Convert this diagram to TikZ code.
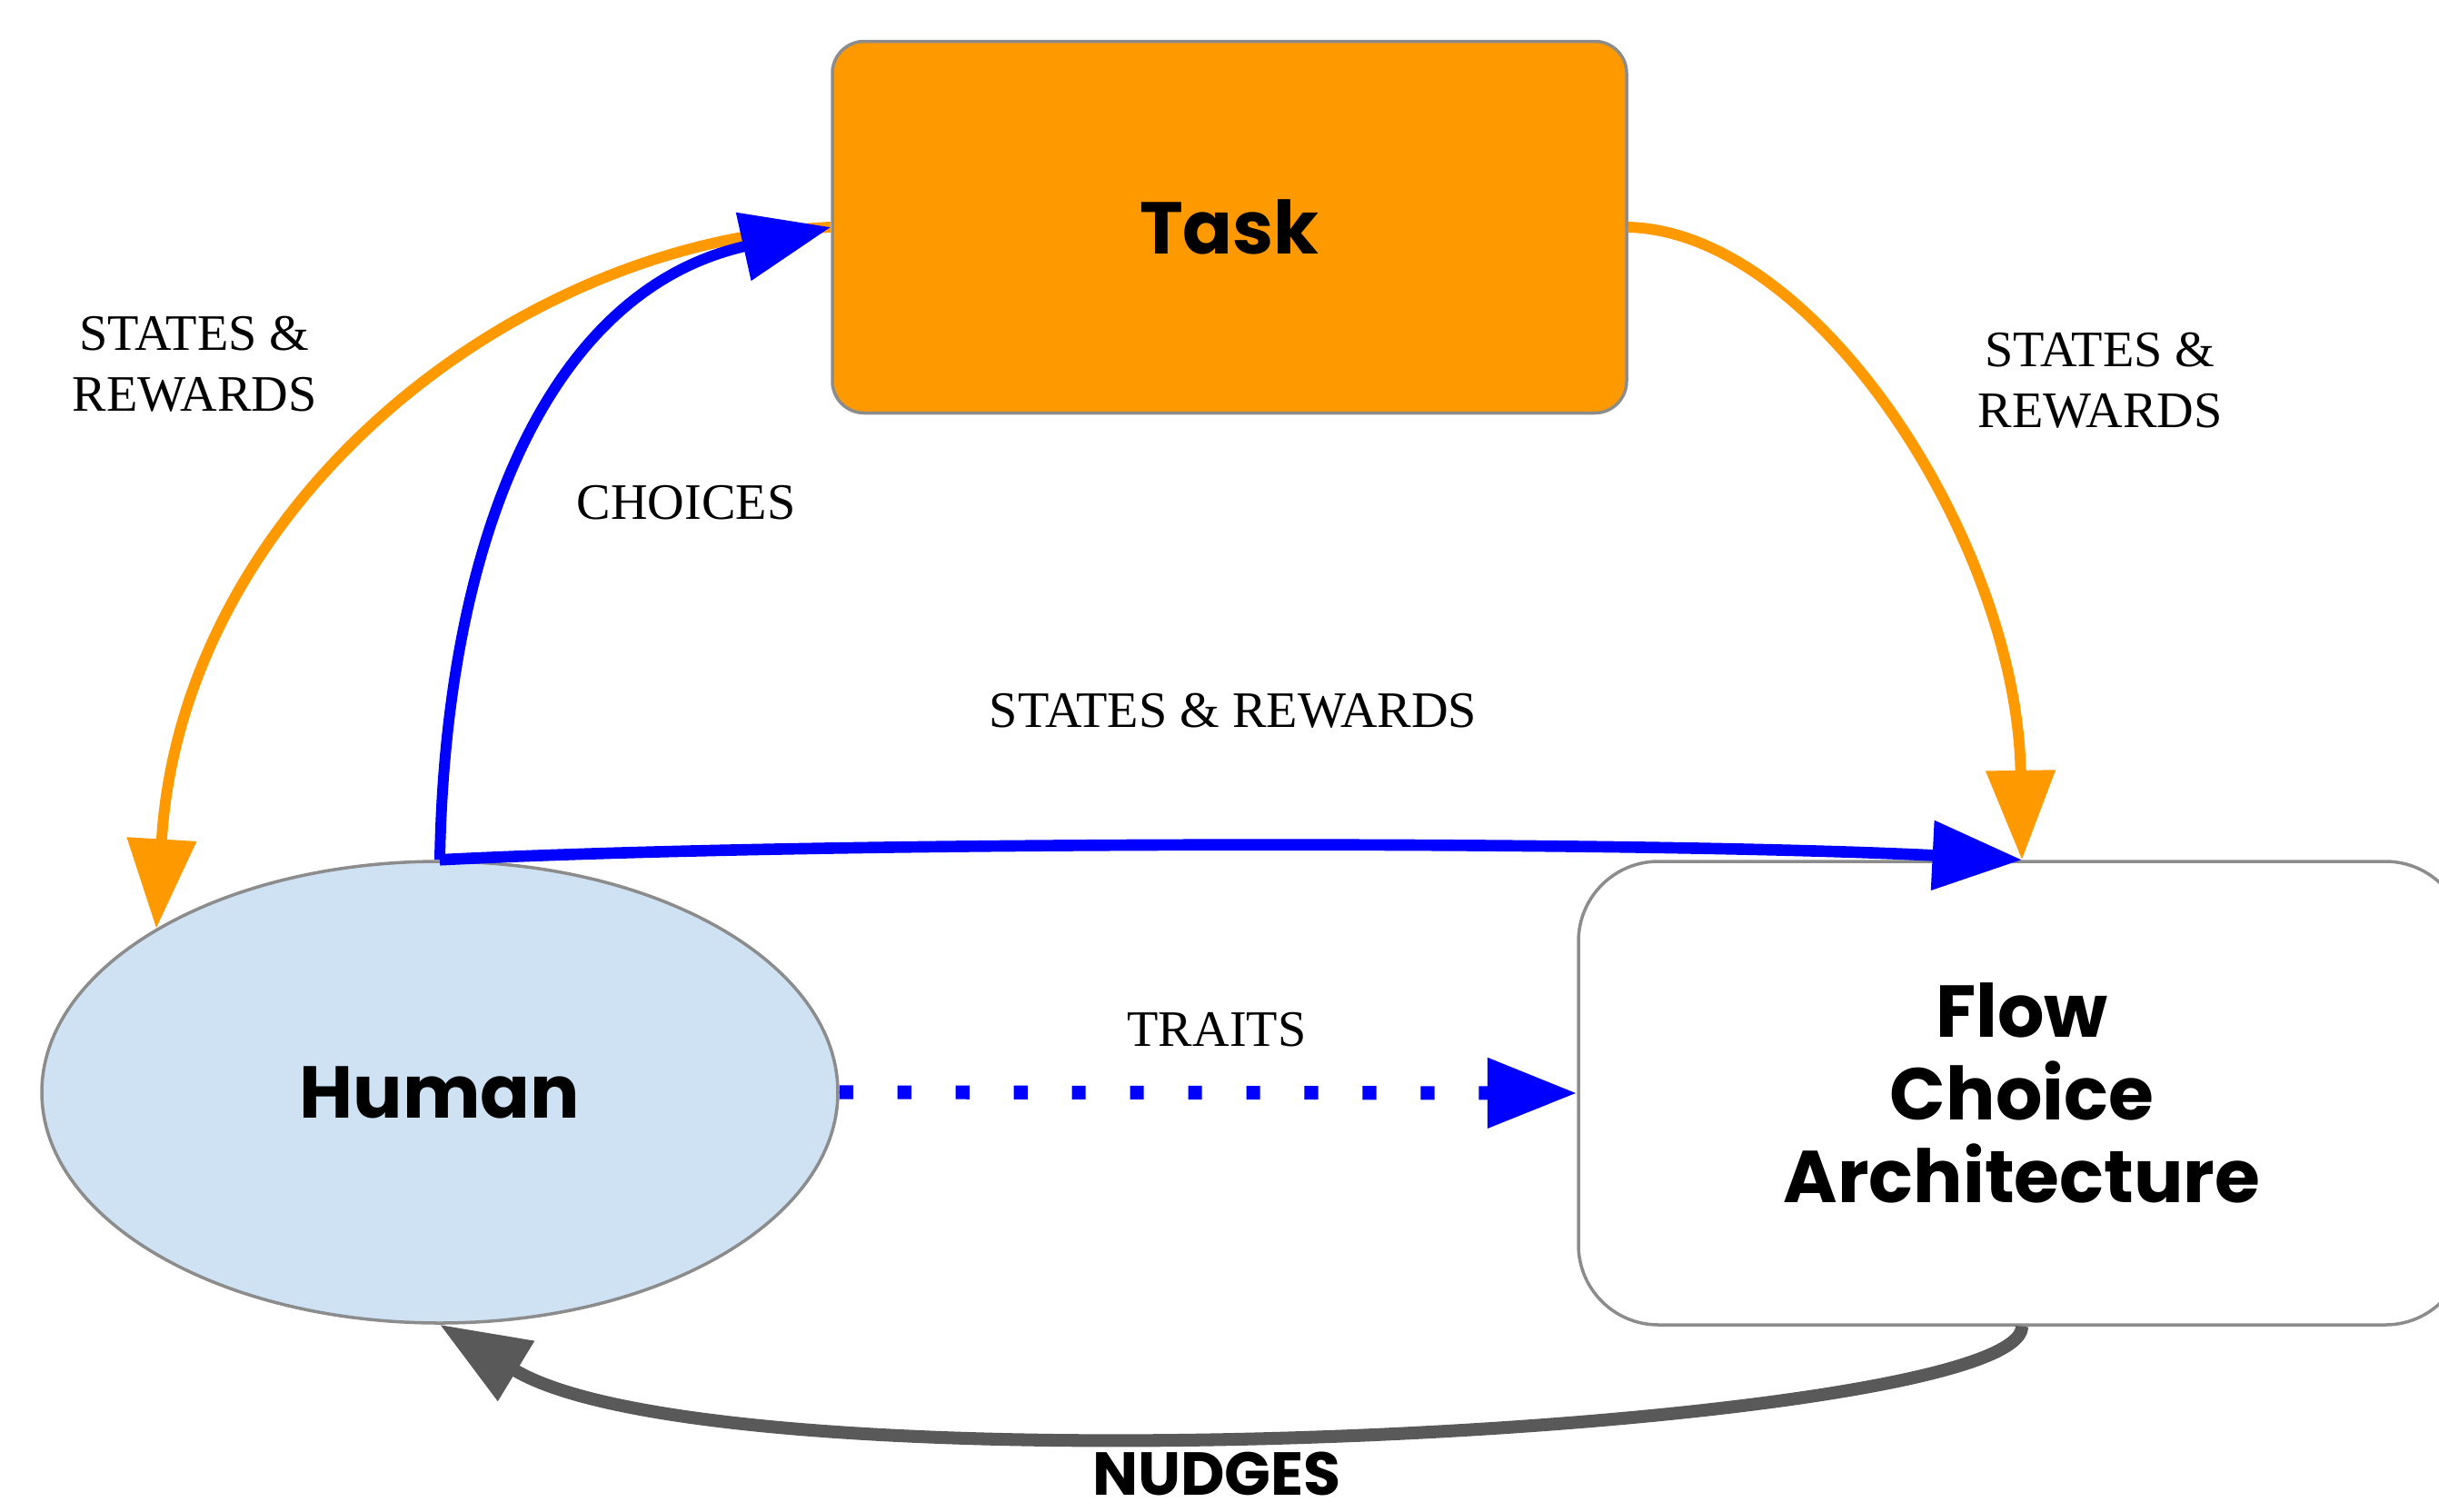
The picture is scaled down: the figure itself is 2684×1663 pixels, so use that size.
\documentclass[tikz,border=0pt]{standalone}
\usepackage{fontspec}
\setmainfont{Liberation Serif}
\setsansfont{Poppins}
\usetikzlibrary{positioning,arrows.meta,shapes.geometric}
\definecolor{taskorange}{RGB}{255,153,0}
\definecolor{humanblue}{RGB}{207,226,243}
\definecolor{edgeblue}{RGB}{0,0,255}
\definecolor{bordergray}{RGB}{140,140,140}
\definecolor{nudgegray}{RGB}{89,89,89}

\begin{document}
\begin{tikzpicture}[x=0.1mm, y=-0.1mm,
  box/.style={draw=bordergray, line width=1pt, align=center,
    font=\sffamily\bfseries\fontsize{23}{26}\selectfont},
  lbl/.style={align=center, font=\fontsize{16}{19}\selectfont},
  flowarrow/.style={-{Triangle[length=28pt,width=21pt]}}]
\useasboundingbox[fill=white] (0,0) rectangle (2684,1663);

% Nodes
\node[box, rounded corners=0.35cm, fill=taskorange, minimum width=8.74cm, minimum height=4.09cm] (task) at (1353,250) {Task};
\node[box, ellipse, inner sep=0pt, fill=humanblue, minimum width=8.76cm, minimum height=5.08cm] (human) at (484,1202) {Human};
\node[box, rounded corners=0.88cm, fill=white, minimum width=9.76cm, minimum height=5.1cm] (flow) at (2225,1203) {Flow\\Choice\\Architecture};

% Edges
\draw[flowarrow, taskorange, line width=3.4pt] (task.west) .. controls (560,265) and (200,560) .. (human.150);
\draw[flowarrow, edgeblue, line width=3.4pt] (human.north) .. controls (490,600) and (600,320) .. (task.west);
\draw[flowarrow, taskorange, line width=3.4pt] (task.east) .. controls (2000,255) and (2220,600) .. (flow.north);
\draw[flowarrow, edgeblue, line width=3.6pt] (human.north) .. controls (900,925) and (1800,925) .. (flow.north);
\draw[flowarrow, edgeblue, line width=4.3pt, dash pattern=on 4.3pt off 13.9pt] (human.east) -- (flow.west);
\draw[flowarrow, nudgegray, line width=4pt] (flow.south) .. controls (2225,1575) and (800,1650) .. (human.south);

% Labels
\node[lbl] (srleft) at (214,401) {STATES \&\\REWARDS};
\node[lbl] (choices) at (755,553) {CHOICES};
\node[lbl] (srright) at (2311,419) {STATES \&\\REWARDS};
\node[lbl] (srmid) at (1357,782) {STATES \& REWARDS};
\node[lbl] (traits) at (1339,1133) {TRAITS};
\node[anchor=base, inner sep=0pt, font=\sffamily\bfseries\fontsize{19}{22}\selectfont] (nudges) at (1339,1645) {NUDGES};
\end{tikzpicture}
\end{document}
